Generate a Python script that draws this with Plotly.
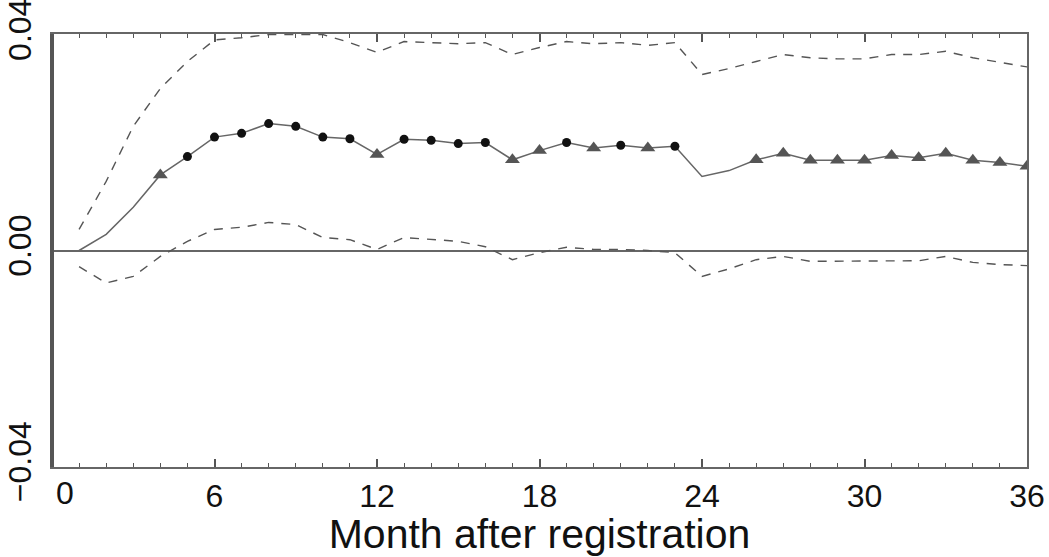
import plotly.graph_objects as go

months = list(range(1, 37))
estimate = [0.0000, 0.0030, 0.0080, 0.0140, 0.0174, 0.0210, 0.0217, 0.0235, 0.0230, 0.0210,
            0.0207, 0.0178, 0.0206, 0.0204, 0.0198, 0.0200, 0.0168, 0.0185, 0.0200, 0.0190,
            0.0195, 0.0190, 0.0193, 0.0137, 0.0148, 0.0168, 0.0180, 0.0167, 0.0167, 0.0167,
            0.0176, 0.0172, 0.0180, 0.0167, 0.0163, 0.0156]
upper = [0.0039, 0.0128, 0.0230, 0.0300, 0.0350, 0.0390, 0.0394, 0.0400, 0.0400, 0.0400,
         0.0385, 0.0367, 0.0387, 0.0385, 0.0383, 0.0385, 0.0363, 0.0376, 0.0387, 0.0383,
         0.0385, 0.0380, 0.0385, 0.0326, 0.0337, 0.0350, 0.0363, 0.0357, 0.0355, 0.0355,
         0.0363, 0.0363, 0.0369, 0.0357, 0.0348, 0.0340]
lower = [-0.0030, -0.0060, -0.0048, -0.0011, 0.0017, 0.0039, 0.0043, 0.0052, 0.0048, 0.0024,
         0.0020, 0.0002, 0.0024, 0.0020, 0.0017, 0.0007, -0.0017, -0.0004, 0.0006, 0.0002,
         0.0002, 0.0000, -0.0004, -0.0048, -0.0034, -0.0017, -0.0011, -0.0020, -0.0020, -0.0020,
         -0.0019, -0.0019, -0.0011, -0.0022, -0.0026, -0.0028]
# marker type per month: c = circle (black), t = triangle (grey), '' = none
marker_type = ['', '', '', 't', 'c', 'c', 'c', 'c', 'c', 'c',
               'c', 't', 'c', 'c', 'c', 'c', 't', 't', 'c', 't',
               'c', 't', 'c', '', '', 't', 't', 't', 't', 't',
               't', 't', 't', 't', 't', 't']

x_tickvals = [6, 12, 18, 24, 30, 36]
y_tickvals = [-0.04, 0.0, 0.04]
y_ticktext = ["\u22120.04", "0.00", "0.04"]

fig = go.Figure()
dash_style = dict(color="#555555", width=1.4, dash="9px,8px")
fig.add_trace(go.Scatter(x=months, y=upper, mode="lines", line=dash_style))
fig.add_trace(go.Scatter(x=months, y=lower, mode="lines", line=dash_style))
fig.add_trace(go.Scatter(x=months, y=estimate, mode="lines",
                         line=dict(color="#666666", width=1.5)))

cx = [m for m, t in zip(months, marker_type) if t == 'c']
cy = [v for v, t in zip(estimate, marker_type) if t == 'c']
tx = [m for m, t in zip(months, marker_type) if t == 't']
ty = [v for v, t in zip(estimate, marker_type) if t == 't']
fig.add_trace(go.Scatter(x=cx, y=cy, mode="markers",
                         marker=dict(symbol="circle", size=9, color="#111111")))
fig.add_trace(go.Scatter(x=tx, y=ty, mode="markers",
                         marker=dict(symbol="triangle-up", size=13, color="#555555")))

font = "Liberation Sans, Arial, Helvetica, sans-serif"
fig.update_layout(
    width=1049, height=557,
    margin=dict(l=52, r=22, t=34, b=90, autoexpand=False),
    paper_bgcolor="white", plot_bgcolor="white",
    showlegend=False,
    font=dict(family=font, size=32, color="#111111"),
    xaxis=dict(
        range=[0, 36], tickvals=x_tickvals, ticks="inside", ticklen=8, tickwidth=1.5,
        tickcolor="#555555", showgrid=False, zeroline=False, automargin=False,
        showline=True, linewidth=2, linecolor="#666666", mirror="allticks",
        minor=dict(dtick=1, ticks="inside", ticklen=4, tickwidth=1.2, tickcolor="#555555"),
        tickfont=dict(size=32), ticklabeloverflow="allow",
        title=dict(text="Month after registration", font=dict(size=41), standoff=2),
    ),
    yaxis=dict(
        range=[-0.0401, 0.0401], tickvals=y_tickvals, ticktext=y_ticktext, ticks="",
        tickangle=-90, showgrid=False, ticklabelstandoff=6, automargin=False,
        ticklabeloverflow="allow",
        zeroline=True, zerolinecolor="#666666", zerolinewidth=1.5,
        showline=True, linewidth=2, linecolor="#666666", mirror=True,
        tickfont=dict(size=32),
    ),
)
# thick left axis line
fig.add_shape(type="line", xref="paper", yref="paper", x0=0, x1=0, y0=0, y1=1,
              line=dict(color="#555555", width=4))
# "0" label sits right of the axis
fig.add_annotation(x=0, y=0, xref="x", yref="paper", text="0", showarrow=False,
                   xshift=13, yanchor="top", yshift=-6, font=dict(size=32))

fig.write_html("out.html")
